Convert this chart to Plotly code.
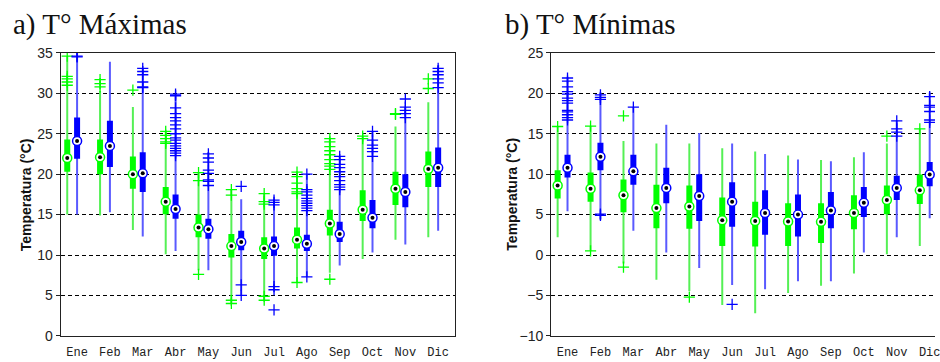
import plotly.graph_objects as go

months = ['Ene', 'Feb', 'Mar', 'Abr', 'May', 'Jun', 'Jul', 'Ago', 'Sep', 'Oct', 'Nov', 'Dic']

# ---- a) T° Máximas ----
max_g_lo = [15.0, 14.9, 13.1, 10.1, 8.1, 4.0, 4.4, 6.6, 7.8, 9.5, 11.9, 12.2]
max_g_q1 = [20.3, 20.0, 18.2, 15.05, 12.2, 9.7, 9.5, 10.8, 12.4, 14.2, 16.2, 18.4]
max_g_med = [22.0, 22.1, 20.0, 16.6, 13.4, 11.1, 10.8, 11.9, 13.9, 15.6, 18.2, 20.65]
max_g_q3 = [24.3, 24.3, 22.2, 18.4, 15.0, 12.6, 12.2, 13.4, 15.6, 18.0, 20.3, 22.8]
max_g_hi = [34.6, 30.3, 28.3, 25.3, 20.2, 18.1, 17.6, 20.25, 24.4, 24.7, 25.9, 28.9]
max_g_out = [
    [34.6, 32.1, 31.8, 31.4, 31.0],
    [31.7, 31.2, 30.8],
    [30.4],
    [25.3, 24.8, 24.4, 24.0, 23.8],
    [20.2, 19.2, 7.6],
    [18.1, 17.4, 4.4, 4.0],
    [17.6, 16.6, 16.3, 4.9, 4.4],
    [20.25, 19.7, 18.9, 18.2, 17.8, 17.6, 6.6],
    [24.4, 24.0, 23.4, 22.9, 22.4, 21.8, 21.3, 21.0, 20.6, 7.0],
    [24.7, 24.4],
    [27.5, 27.4],
    [31.8, 30.6],
]

max_b_lo = [15.0, 15.3, 12.3, 10.5, 8.1, 5.0, 5.7, 7.3, 8.7, 10.3, 11.3, 13.0]
max_b_q1 = [21.9, 20.9, 17.8, 14.5, 12.0, 10.6, 9.9, 10.5, 11.6, 13.3, 15.9, 18.4]
max_b_med = [24.1, 23.5, 20.1, 15.7, 13.2, 11.6, 11.1, 11.4, 12.6, 14.6, 17.8, 20.8]
max_b_q3 = [27.0, 26.6, 22.7, 17.5, 14.5, 13.0, 12.3, 12.5, 14.1, 16.8, 20.0, 23.3]
max_b_hi = [35.3, 33.9, 33.1, 29.9, 22.7, 16.9, 16.8, 20.0, 22.2, 25.3, 28.3, 33.5]
max_b_out = [
    [34.6, 34.5],
    [],
    [33.1, 32.7, 32.3, 31.4, 30.8, 30.7],
    [29.9, 29.7, 28.2, 27.5, 27.0, 26.6, 26.1, 25.6, 25.0, 24.5, 24.2, 23.8, 23.5, 23.2, 22.9, 22.6, 22.3],
    [22.5, 22.0, 21.5, 20.5, 20.1, 19.3, 19.1, 18.6],
    [18.5, 6.3, 5.0],
    [16.8, 16.5, 16.2, 6.1, 5.7, 3.2],
    [20.0, 18.1, 17.8, 17.4, 17.0, 16.7, 16.4, 16.1, 15.8, 15.5, 7.3],
    [22.2, 21.8, 21.2, 20.8, 20.3, 19.7, 19.2, 18.7, 18.4, 18.1],
    [25.3, 24.2, 23.6, 23.2, 22.8, 22.2],
    [29.3, 28.3, 27.9, 27.5, 27.0],
    [33.1, 32.7, 32.3, 31.8, 31.3, 30.7],
]

# ---- b) T° Mínimas ----
min_g_lo = [2.2, 0.5, -1.05, -3.05, -4.45, -6.2, -7.2, -4.7, -3.8, -2.3, 0.1, 1.1]
min_g_q1 = [7.0, 6.6, 5.3, 3.3, 3.25, 1.1, 1.05, 1.1, 1.5, 3.2, 5.05, 6.3]
min_g_med = [8.6, 8.2, 7.4, 5.8, 6.0, 4.3, 4.2, 4.15, 4.1, 5.2, 6.8, 8.0]
min_g_q3 = [10.5, 10.2, 9.35, 8.7, 8.6, 7.1, 6.6, 6.4, 6.4, 7.4, 8.6, 9.95]
min_g_hi = [15.9, 15.95, 14.1, 13.8, 13.8, 13.2, 12.8, 12.3, 11.75, 12.1, 13.8, 15.6]
min_g_out = [
    [15.9], [15.95, 0.5], [17.2, -1.5], [], [-5.2], [], [], [], [], [], [14.7], [15.6],
]

min_b_lo = [5.4, 4.4, 3.0, 0.3, -1.6, -3.7, -4.25, -3.25, -3.25, 0.3, 2.2, 4.55]
min_b_q1 = [9.6, 10.5, 8.7, 6.4, 4.2, 3.5, 2.5, 2.3, 3.3, 4.7, 6.8, 8.5]
min_b_med = [10.8, 12.15, 10.35, 8.3, 7.3, 6.6, 5.2, 5.0, 5.5, 6.45, 8.3, 9.95]
min_b_q3 = [12.4, 13.9, 12.4, 10.8, 10.0, 9.0, 8.0, 7.5, 7.8, 8.4, 9.8, 11.5]
min_b_hi = [22.0, 20.1, 18.3, 16.1, 15.1, 13.8, 12.5, 11.8, 11.6, 12.7, 16.6, 20.1]
min_b_out = [
    [21.9, 21.5, 20.8, 20.2, 19.9, 19.4, 19.1, 18.8, 17.9, 17.7, 17.35, 17.0, 16.7],
    [19.8, 19.5, 19.25, 5.05, 4.9],
    [18.3],
    [], [], [-6.1], [], [], [], [],
    [16.6, 15.6, 15.2, 14.7],
    [19.6, 18.5, 18.3, 17.75, 16.7, 16.4],
]

GREEN = '#00ff00'
GREEN_W = '#55f055'
BLUE = '#0000ff'
BLUE_W = '#5a5aff'
OFFSET_G = -0.3
OFFSET_B = 0.0

fig = go.Figure()


def add_series(lo, q1, med, q3, hi, outs, offset, color, wcolor, xa, ya):
    xs = [i + 1 + offset for i in range(len(months))]
    wx, wy, bx, by = [], [], [], []
    for x, a, b, c, d in zip(xs, lo, q1, q3, hi):
        wx += [x, x, None]
        wy += [a, d, None]
        bx += [x, x, None]
        by += [b, c, None]
    ox, oy = [], []
    for x, o in zip(xs, outs):
        ox += [x] * len(o)
        oy += o
    common = dict(xaxis=xa, yaxis=ya, showlegend=False, hoverinfo='skip')
    fig.add_trace(go.Scatter(x=wx, y=wy, mode='lines',
                             line=dict(color=wcolor, width=2), **common))
    fig.add_trace(go.Scatter(x=ox, y=oy, mode='markers',
                             marker=dict(symbol='cross-thin', size=8,
                                         line=dict(color=color, width=1.3)),
                             **common))
    fig.add_trace(go.Scatter(x=bx, y=by, mode='lines',
                             line=dict(color=color, width=6), **common))
    fig.add_trace(go.Scatter(x=xs, y=med, mode='markers',
                             marker=dict(symbol='circle', size=9, color='white',
                                         line=dict(color=color, width=1.5)),
                             **common))
    fig.add_trace(go.Scatter(x=xs, y=med, mode='markers',
                             marker=dict(symbol='circle', size=4, color='black'),
                             **common))


add_series(max_g_lo, max_g_q1, max_g_med, max_g_q3, max_g_hi, max_g_out,
           OFFSET_G, GREEN, GREEN_W, 'x', 'y')
add_series(max_b_lo, max_b_q1, max_b_med, max_b_q3, max_b_hi, max_b_out,
           OFFSET_B, BLUE, BLUE_W, 'x', 'y')
add_series(min_g_lo, min_g_q1, min_g_med, min_g_q3, min_g_hi, min_g_out,
           OFFSET_G, GREEN, GREEN_W, 'x2', 'y2')
add_series(min_b_lo, min_b_q1, min_b_med, min_b_q3, min_b_hi, min_b_out,
           OFFSET_B, BLUE, BLUE_W, 'x2', 'y2')

W, H = 940, 362
tickvals = list(range(1, 13))

xcommon = dict(tickmode='array', tickvals=tickvals, ticktext=months,
               showgrid=False, zeroline=False, showline=True, linecolor='#222',
               linewidth=1, ticks='outside', ticklen=5, tickcolor='rgba(0,0,0,0)',
               ticklabeloverflow='allow',
               tickfont=dict(family='Liberation Mono', size=12, color='#222'))
ycommon = dict(dtick=5, showgrid=True, gridcolor='#000', gridwidth=1, griddash='4px,3px',
               zeroline=False, showline=True, linecolor='#222', linewidth=1,
               ticks='outside', ticklen=4, tickcolor='#222',
               tickfont=dict(family='Liberation Sans', size=14, color='#222'))

fig.update_layout(
    width=W, height=H, margin=dict(l=0, r=0, t=0, b=0),
    paper_bgcolor='white', plot_bgcolor='white',
    xaxis=dict(domain=[61 / W, 457 / W], range=[0.5, 12.5], mirror=True, anchor='y', **xcommon),
    yaxis=dict(domain=[(H - 343) / H, (H - 47) / H], range=[0, 35], mirror=True, anchor='x', **ycommon),
    xaxis2=dict(domain=[554 / W, 1.0], range=[0.5, 0.5 + (940 - 554) / 33.1], mirror=True, anchor='y2', **xcommon),
    yaxis2=dict(domain=[(H - 343) / H, (H - 47) / H], range=[-10, 25], mirror=False, anchor='x2', **ycommon),
    annotations=[
        dict(text='a) T° Máximas', x=11 / W, y=1 - 17 / H, xref='paper', yref='paper',
             xanchor='left', yanchor='middle', showarrow=False,
             font=dict(family='Liberation Serif', size=29, color='#111')),
        dict(text='b) T° Mínimas', x=506 / W, y=1 - 17 / H, xref='paper', yref='paper',
             xanchor='left', yanchor='middle', showarrow=False,
             font=dict(family='Liberation Serif', size=29, color='#111')),
        dict(text='<b>Temperatura (°C)</b>', x=27 / W, y=(H - 195) / H, xref='paper', yref='paper',
             xanchor='center', yanchor='middle', showarrow=False, textangle=-90,
             font=dict(family='Liberation Sans', size=14, color='#111')),
        dict(text='<b>Temperatura (°C)</b>', x=515 / W, y=(H - 195) / H, xref='paper', yref='paper',
             xanchor='center', yanchor='middle', showarrow=False, textangle=-90,
             font=dict(family='Liberation Sans', size=14, color='#111')),
    ],
)

fig.write_html('out.html')
